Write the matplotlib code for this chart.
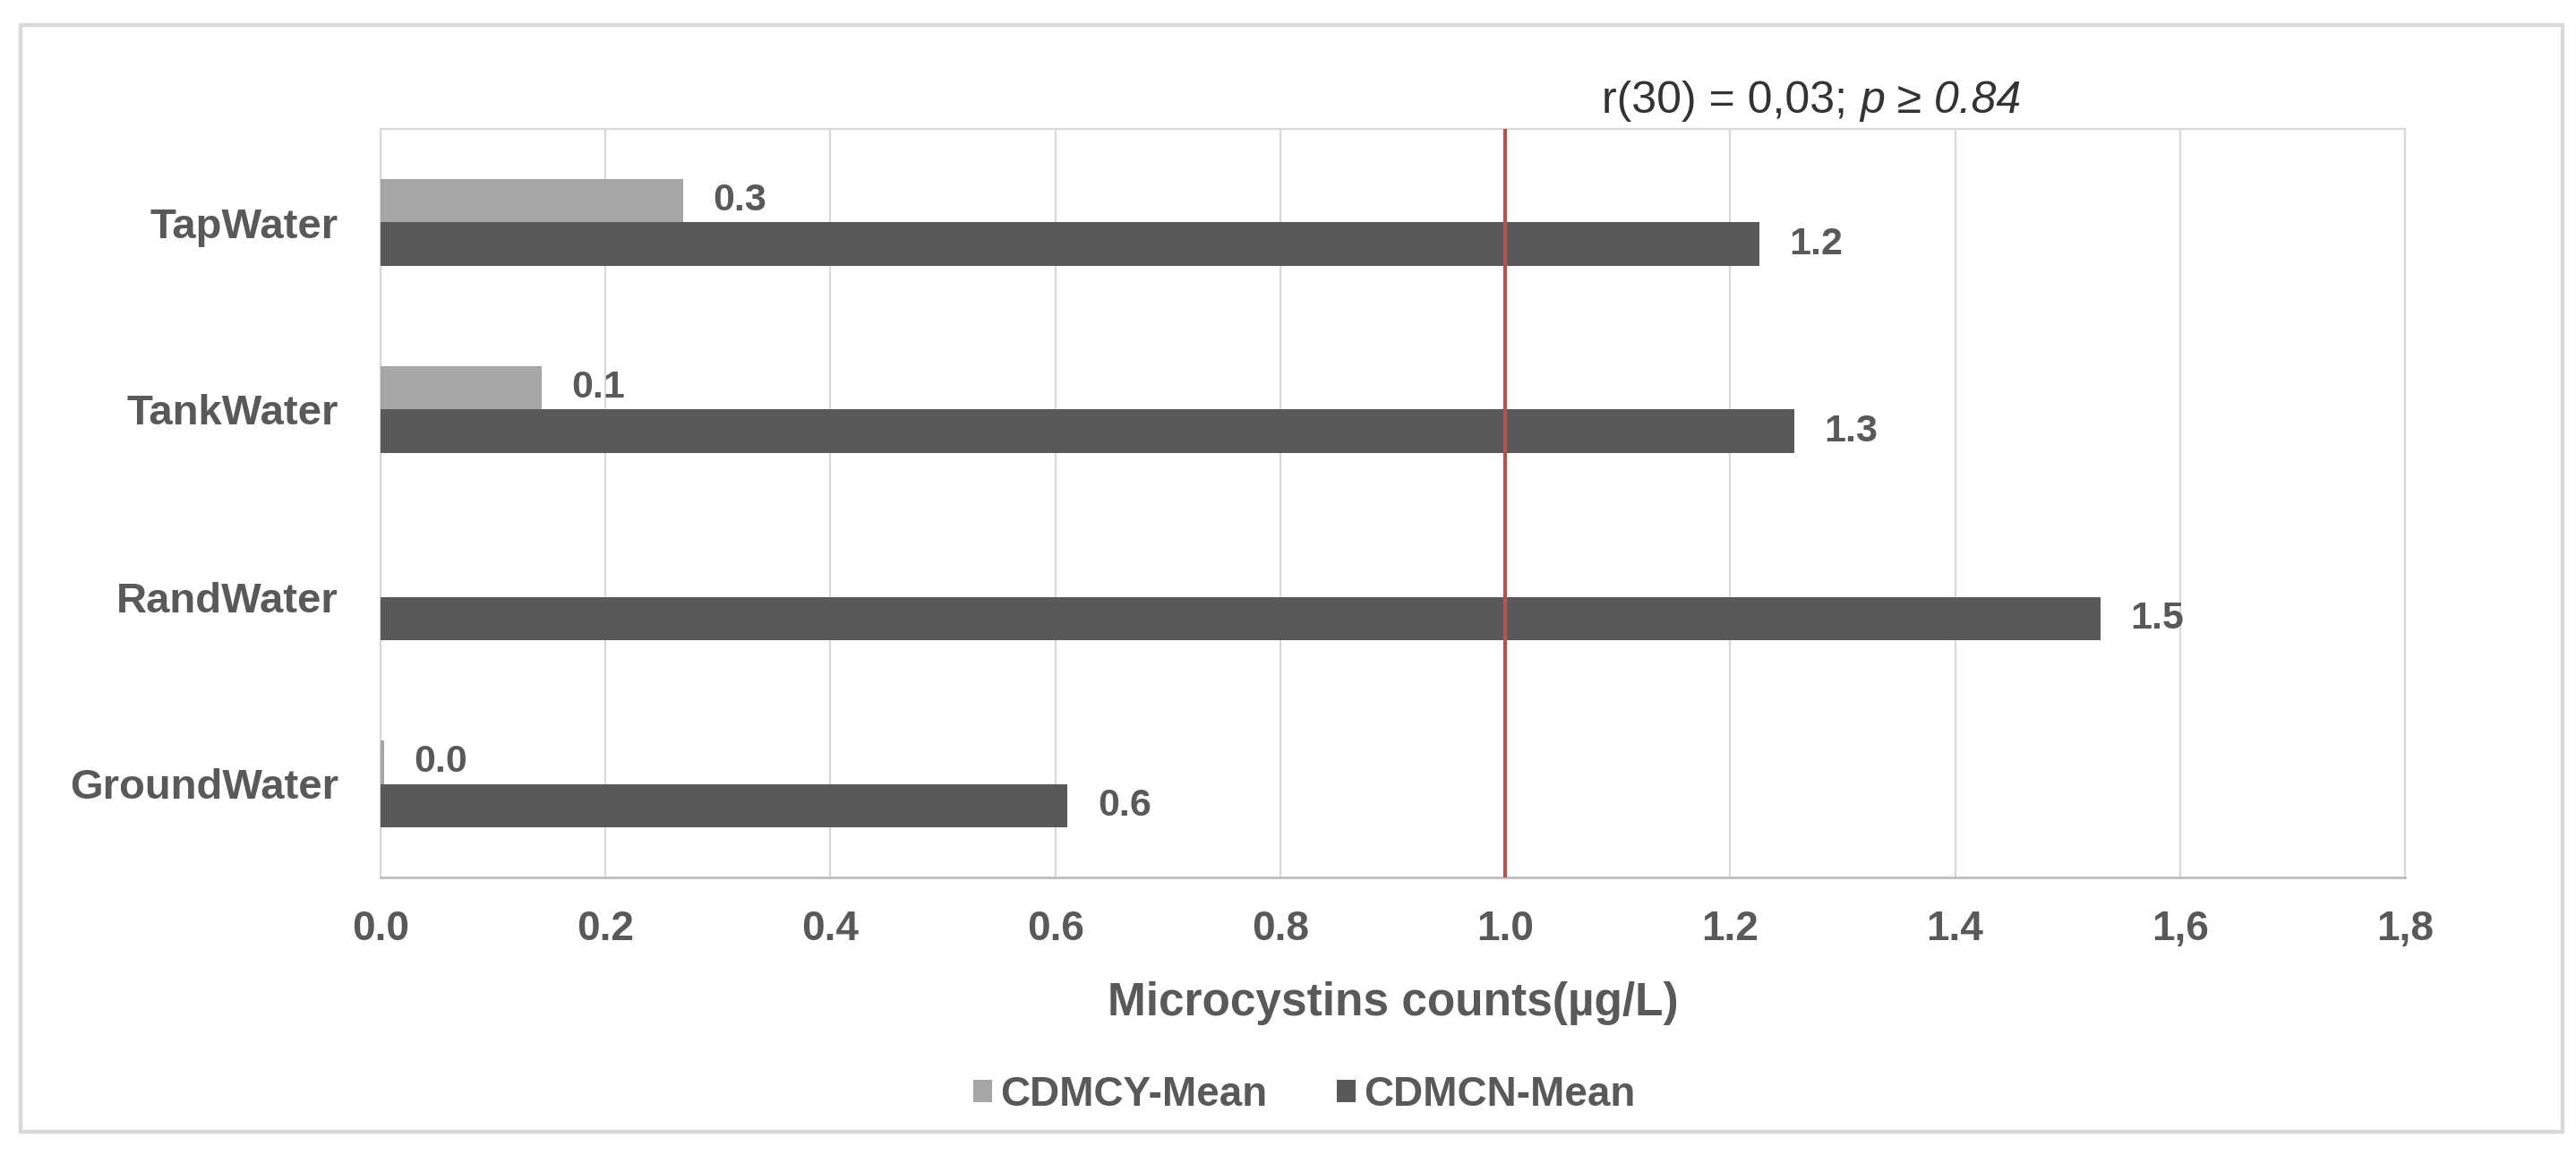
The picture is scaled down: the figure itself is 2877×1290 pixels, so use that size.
import matplotlib
matplotlib.use('Agg')

import numpy as np
import matplotlib.pyplot as plt
from matplotlib.patches import Rectangle

plt.rcParams['font.family'] = ['Liberation Sans', 'DejaVu Sans']

# data
sites = ['GroundWater', 'RandWater', 'TankWater', 'TapWater']
cdmcy = [0.003, 0.0, 0.143, 0.269]
cdmcn = [0.611, 1.529, 1.257, 1.226]
cdmcy_lab = ['0.0', '', '0.1', '0.3']
cdmcn_lab = ['0.6', '1.5', '1.3', '1.2']
xticks = [0.0, 0.2, 0.4, 0.6, 0.8, 1.0, 1.2, 1.4, 1.6, 1.8]
xtick_lab = ['0.0', '0.2', '0.4', '0.6', '0.8', '1.0', '1.2', '1.4', '1,6', '1,8']
ref_x = 1.0

txt = '#595959'
light = '#a6a6a6'
dark = '#595959'
grid = '#d9d9d9'

W, H, dpi = 2877, 1290, 200
fig = plt.figure(figsize=(W / dpi, H / dpi), dpi=dpi)
ax = fig.add_axes([425 / W, 1 - 980 / H, (2686 - 425) / W, (980 - 144) / H])

y = np.arange(len(sites))
h = 0.234
b1 = ax.barh(y + h / 2, cdmcy, height=h, color=light, label='CDMCY-Mean', zorder=3)
b2 = ax.barh(y - h / 2, cdmcn, height=h, color=dark, label='CDMCN-Mean', zorder=3)

for bars, labs in ((b1, cdmcy_lab), (b2, cdmcn_lab)):
    for r, s in zip(bars, labs):
        if s == '':
            continue
        ax.annotate(s, xy=(r.get_width(), r.get_y() + r.get_height() / 2),
                    xytext=(12, 0), textcoords='offset points', va='center', ha='left',
                    fontsize=15.5, fontweight='bold', color=txt)

ax.axvline(ref_x, color='#b5524f', lw=1.5, zorder=4)

ax.set_xlim(0, 1.8)
ax.set_ylim(-0.5, 3.5)
ax.set_xticks(xticks)
ax.set_xticklabels(xtick_lab)
ax.set_yticks(y)
ax.set_yticklabels(sites)
ax.tick_params(axis='x', length=0, pad=13, labelsize=16.5, labelcolor=txt)
ax.tick_params(axis='y', length=0, pad=17, labelsize=17, labelcolor=txt)
for lab in ax.get_xticklabels() + ax.get_yticklabels():
    lab.set_fontweight('bold')

ax.grid(axis='x', color=grid, lw=0.8, zorder=0)
for s in ['top', 'right', 'left']:
    ax.spines[s].set_color(grid)
    ax.spines[s].set_linewidth(0.8)
ax.spines['bottom'].set_color('#bfbfbf')
ax.spines['bottom'].set_linewidth(1.0)

ax.set_xlabel('Microcystins counts(µg/L)', fontsize=18.5, fontweight='bold', color=txt, labelpad=13)

# correlation note above the plot
t1 = ax.text(1.086, 1 + (144 - 113) / 836, 'r(30) = 0,03; ', transform=ax.get_xaxis_transform(),
             ha='left', va='center', fontsize=18, color='#333333')
ax.annotate('p ≥ 0.84', xy=(1, 0.5), xycoords=t1, ha='left', va='center',
            fontsize=18, color='#333333', fontstyle='italic')

fig.legend(handles=[b1, b2], loc='center', bbox_to_anchor=(1457 / W, 1 - 1223 / H), ncol=2,
           frameon=False, prop={'weight': 'bold', 'size': 16.5},
           handlelength=0.45, handleheight=0.45, handletextpad=0.2, columnspacing=1.7,
           labelcolor=txt)

# light frame round the whole chart
fig.patches.append(Rectangle((23 / W, 1 - 1264 / H), (2862 - 23) / W, (1264 - 28) / H,
                             transform=fig.transFigure, fill=False, ec='#d9d9d9', lw=1.6))

plt.savefig('out.png', dpi=dpi)
